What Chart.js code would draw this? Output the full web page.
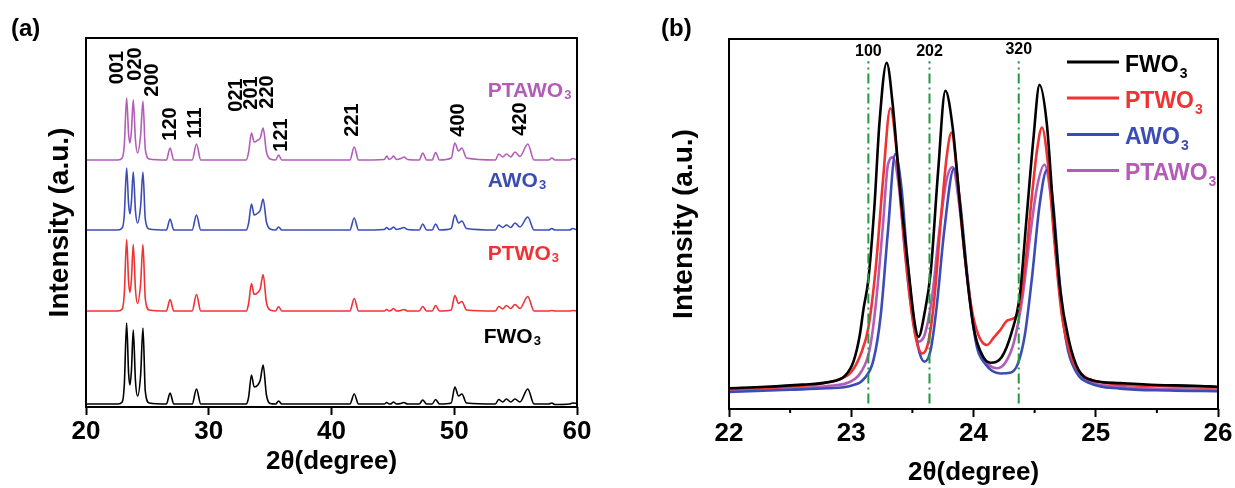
<!DOCTYPE html>
<html>
<head>
<meta charset="utf-8">
<title>XRD WO3</title>
<script src="https://cdn.jsdelivr.net/npm/chart.js@4.4.1/dist/chart.umd.min.js"></script>
<style>
    html, body { margin: 0; padding: 0; background: #fff; }
    #wrap { position: relative; width: 1235px; height: 488px; }
    .panel { position: absolute; top: 0; height: 488px; }
    #panelA { left: 0; width: 617px; }
    #panelB { left: 617px; width: 618px; }
</style>
</head>
<body>
<div id="wrap">
    <div class="panel" id="panelA"><canvas id="chartA"></canvas></div>
    <div class="panel" id="panelB"><canvas id="chartB"></canvas></div>
</div>
<script>
// ---- data ----
// sample names (a = stacked wide scan, b = zoom on the main triplet)
const samples = ['FWO', 'PTWO', 'AWO', 'PTAWO'];
const sampleColors = ['#000000', '#f03232', '#3b4db5', '#b35db8'];

// (a) 2theta grid shared by all four patterns
const thetaA = [
    20.0, 22.6, 22.95, 23.12, 23.31, 23.47, 23.58, 23.7, 23.85, 24.03, 24.2, 24.45, 24.64, 24.83, 25.15,
    26.55, 26.85, 27.15, 28.65, 29.0, 29.35,
    33.05, 33.25, 33.48, 33.7, 34.0, 34.2, 34.43, 34.7, 35.0, 35.45, 35.69, 35.95,
    41.5, 41.85, 42.2, 44.3, 44.5, 44.7, 44.9, 45.05, 45.3, 45.65, 45.9, 46.2,
    47.15, 47.43, 47.75, 48.2, 48.48, 48.8, 49.75, 50.05, 50.35, 50.62, 51.0,
    53.35, 53.62, 53.95, 54.25, 54.6, 54.95, 55.35, 55.99, 56.5, 57.7, 57.95, 58.2, 59.4, 59.65, 60.0
];
// (a) intensity above each pattern's own baseline
const fwoA = [
    1, 1, 3, 20, 82, 32, 20, 34, 75, 24, 9, 30, 77, 14, 2,
    1, 12, 1, 1, 16, 1,
    1, 8, 30, 18, 20, 25, 40, 10, 1.5, 1, 4, 1,
    1, 11, 1, 1, 2.5, 1, 1.5, 3, 1, 1.5, 2.5, 1,
    1, 5, 1, 1, 5.5, 1, 2, 18, 9, 11, 2,
    1, 5.5, 3, 6, 3, 6, 3, 16, 1, 1, 2, 0.5, 1, 2, 1.5
];
const ptwoA = [
    0.5, 0.5, 2.5, 18, 72, 30, 19, 32, 67, 22, 8, 28, 67, 13, 1.5,
    0.5, 12, 0.5, 0.5, 17, 0.5,
    0.5, 8, 28, 17, 19, 23, 37, 9, 1.5, 0.5, 5, 0.5,
    0.5, 13, 0.5, 0.5, 2, 0.5, 1.5, 3, 0.5, 1, 2, 0.5,
    0.5, 5, 0.5, 0.5, 6, 0.5, 1.5, 16, 8, 10, 1.5,
    0.5, 5, 2.5, 6, 3, 7, 3, 15, 0.5, 0.5, 1, 0.5, 0.5, 1, 0.5
];
const awoA = [
    0, 0, 2, 15, 62, 26, 16, 28, 58, 19, 7, 24, 58, 11, 1,
    0, 11, 0, 0, 15, 0,
    0, 7, 26, 15, 17, 20, 31, 8, 1, 0, 3, 0,
    0, 12, 0, 0.5, 2.5, 0.5, 1.5, 3, 0.5, 1.5, 2.5, 0.5,
    0, 6, 0, 0, 6, 0, 1.5, 15, 7, 9, 1.5,
    0, 5, 2.5, 5, 2.5, 7, 3, 13, 0, 0, 1.5, 0, 0, 1.5, 0
];
const ptawoA = [
    0, 0, 2, 15, 62, 26, 17, 29, 60, 20, 7, 25, 59, 11, 1,
    0, 12, 0, 0, 16, 0,
    0, 8, 27, 18, 20, 22, 32, 8, 1, 0, 5, 0,
    0, 13, 0, 0.5, 4, 0.5, 2, 4, 0.5, 1.5, 3, 0.5,
    0, 7, 0, 0, 7.5, 0, 2, 17, 9, 12, 2,
    0, 6, 3, 6, 3, 8, 3.5, 16, 0, 0, 2, 0, 0, 1.5, 0
];
// vertical stacking of the four patterns in (a)
const stackOffset = [2, 95.5, 177, 247];

// (a) Miller indices written over the top pattern
const hklText = ['001', '020', '200', '120', '111', '021', '201', '220', '121', '221', '400', '420'];
const hklTheta = [22.59, 24.02, 25.38, 26.87, 28.9, 32.3, 33.52, 34.81, 35.91, 41.69, 50.37, 55.42];
const hklLevel = [339.5, 343, 327, 283, 284, 312, 314, 315, 272, 287, 287, 288];

// (b) zoomed traces [2theta, intensity]
const fwoB = [
    [22.0, 5.6], [22.3, 6.0], [22.6, 6.6], [22.8, 7.2], [22.95, 9], [23.02, 13], [23.07, 20], [23.1, 27],
    [23.14, 35], [23.19, 55], [23.23, 77], [23.29, 93.6], [23.34, 82], [23.4, 59], [23.47, 37], [23.52, 23],
    [23.55, 19.5], [23.6, 26], [23.65, 37], [23.71, 64], [23.77, 86], [23.83, 76], [23.89, 55], [23.96, 32],
    [24.01, 20.5], [24.08, 14], [24.14, 12.5], [24.23, 14], [24.31, 20.5], [24.38, 31], [24.43, 50], [24.49, 73],
    [24.54, 87.6], [24.6, 77], [24.65, 55], [24.71, 32], [24.78, 18.6], [24.86, 10.5], [24.97, 7.8], [25.2, 7.0],
    [25.5, 6.5], [25.8, 6.3], [26.0, 6.0]
];
const ptwoB = [
    [22.0, 5.4], [22.4, 5.9], [22.7, 6.6], [22.9, 8], [23.0, 10], [23.08, 15], [23.14, 22], [23.2, 38],
    [23.26, 62], [23.32, 81.3], [23.37, 70], [23.42, 50], [23.48, 30], [23.53, 19], [23.58, 15], [23.63, 18],
    [23.68, 30], [23.73, 50], [23.78, 68], [23.82, 74.7], [23.87, 62], [23.92, 44], [23.98, 28], [24.04, 20],
    [24.11, 17.3], [24.17, 19.5], [24.22, 21.4], [24.28, 24], [24.36, 25.4], [24.42, 38], [24.47, 55], [24.52, 70],
    [24.56, 76.1], [24.61, 66], [24.66, 46], [24.72, 26], [24.8, 14], [24.9, 9], [25.0, 7.5], [25.5, 6.2], [26.0, 5.8]
];
const awoB = [
    [22.0, 4.6], [22.5, 5.2], [22.8, 5.6], [23.0, 6.3], [23.1, 8], [23.18, 13], [23.24, 25], [23.3, 48],
    [23.36, 68.9], [23.41, 60], [23.46, 40], [23.52, 22], [23.56, 15], [23.6, 12.8], [23.65, 16], [23.7, 28],
    [23.76, 48], [23.84, 65], [23.89, 56], [23.95, 36], [24.02, 18], [24.1, 12], [24.22, 9.6], [24.3, 9.8],
    [24.36, 12], [24.42, 20], [24.48, 36], [24.54, 55], [24.6, 64.6], [24.65, 56], [24.7, 36], [24.76, 18],
    [24.84, 10], [24.95, 7], [25.2, 5.5], [25.6, 5], [26.0, 4.8]
];
const ptawoB = [
    [22.0, 5.0], [22.5, 5.5], [22.8, 6.2], [23.0, 7.5], [23.08, 10], [23.15, 16], [23.2, 28], [23.26, 50],
    [23.3, 66], [23.34, 68], [23.39, 60], [23.44, 42], [23.5, 25], [23.55, 18.2], [23.6, 20], [23.66, 30],
    [23.72, 48], [23.78, 62], [23.83, 65.4], [23.88, 56], [23.94, 38], [24.0, 22], [24.08, 14], [24.19, 11],
    [24.26, 12.5], [24.33, 18], [24.4, 30], [24.46, 46], [24.52, 60], [24.58, 66], [24.63, 58], [24.68, 40],
    [24.74, 22], [24.82, 12], [24.92, 8], [25.2, 6], [25.6, 5.4], [26.0, 5.2]
];
// (b) reference reflections (dash-dot lines)
const refTheta = [23.14, 23.64, 24.37];
const refText = ['100', '202', '320'];

// ---- drawing ----
const FONT = '"Liberation Sans", Arial, sans-serif';
const refGreen = '#1f9a3f';

// text with a subscript "3"
function drawFormula(ctx, main, x, y, size, subSize, drop, color) {
    ctx.save();
    ctx.fillStyle = color;
    ctx.textAlign = 'left';
    ctx.textBaseline = 'alphabetic';
    ctx.font = 'bold ' + size + 'px ' + FONT;
    ctx.fillText(main, x, y);
    const w = ctx.measureText(main).width;
    ctx.font = 'bold ' + subSize + 'px ' + FONT;
    ctx.fillText('3', x + w + 1, y + drop);
    ctx.restore();
}

function drawFrame(chart) {
    const { ctx, chartArea: a } = chart;
    ctx.save();
    ctx.strokeStyle = '#000';
    ctx.lineWidth = 2;
    ctx.strokeRect(a.left, a.top, a.right - a.left, a.bottom - a.top);
    ctx.restore();
}

const axisTitleFont = { family: FONT, size: 26, weight: 'bold' };
const tickFont = { family: FONT, size: 26, weight: 'bold' };

// panel (a)
const seriesA = [fwoA, ptwoA, awoA, ptawoA];
const labelPosA = [[52.4, 343], [52.73, 260], [52.73, 187], [52.73, 97]]; // [2theta, baseline px]

const panelAPlugin = {
    id: 'panelA',
    afterDatasetsDraw(chart) {
        const { ctx, scales: { x, y } } = chart;
        drawFrame(chart);
        // Miller indices, rotated
        ctx.save();
        ctx.fillStyle = '#000';
        ctx.font = 'bold 20px ' + FONT;
        ctx.textAlign = 'center';
        ctx.textBaseline = 'middle';
        hklText.forEach((t, i) => {
            ctx.save();
            ctx.translate(x.getPixelForValue(hklTheta[i]), y.getPixelForValue(hklLevel[i]));
            ctx.rotate(-Math.PI / 2);
            ctx.fillText(t, 0, 0);
            ctx.restore();
        });
        ctx.restore();
        // sample names
        samples.forEach((s, i) => {
            drawFormula(ctx, s, x.getPixelForValue(labelPosA[i][0]), labelPosA[i][1], 21, 13, 2, sampleColors[i]);
        });
        // panel letter
        ctx.save();
        ctx.fillStyle = '#000';
        ctx.font = 'bold 24px ' + FONT;
        ctx.fillText('(a)', 11, 36);
        ctx.restore();
    }
};

new Chart(document.getElementById('chartA'), {
    type: 'line',
    data: {
        datasets: seriesA.map((vals, i) => ({
            label: samples[i] + '3',
            data: thetaA.map((t, k) => ({ x: t, y: vals[k] + stackOffset[i] })),
            borderColor: sampleColors[i],
            borderWidth: 1.6,
            pointRadius: 0,
            cubicInterpolationMode: 'monotone',
            fill: false
        }))
    },
    options: {
        responsive: true,
        maintainAspectRatio: false,
        animation: false,
        layout: { padding: { top: 38, right: 40, left: 0, bottom: 0 } },
        plugins: { legend: { display: false }, tooltip: { enabled: false } },
        scales: {
            x: {
                type: 'linear', min: 20, max: 60,
                ticks: { stepSize: 10, padding: 1, color: '#000', font: tickFont },
                grid: { drawOnChartArea: false, tickLength: 8, tickWidth: 2, tickColor: '#000' },
                border: { display: false },
                title: { display: true, text: '2θ(degree)', color: '#000', font: axisTitleFont, padding: { top: 0, bottom: 11 } },
                afterFit: s => { s.height = 81; }
            },
            y: {
                min: 0, max: 369,
                ticks: { display: false },
                grid: { display: false },
                border: { display: false },
                title: { display: true, text: 'Intensity (a.u.)', color: '#000', font: { family: FONT, size: 28, weight: 'bold' }, padding: { top: 43, bottom: 0 } },
                afterFit: s => { s.width = 86; }
            }
        }
    },
    plugins: [panelAPlugin]
});

// panel (b)
const seriesB = [fwoB, ptwoB, awoB, ptawoB];
const legendRowY = [62, 98, 134.5, 170.5]; // px

const panelBPlugin = {
    id: 'panelB',
    afterDatasetsDraw(chart) {
        const { ctx, chartArea: a, scales: { x, y } } = chart;
        drawFrame(chart);
        // minor ticks
        ctx.save();
        ctx.strokeStyle = '#000';
        ctx.lineWidth = 2;
        for (let v = 22.5; v < 26; v += 1) {
            const px = x.getPixelForValue(v);
            ctx.beginPath();
            ctx.moveTo(px, a.bottom);
            ctx.lineTo(px, a.bottom + 4);
            ctx.stroke();
        }
        ctx.restore();
        // reflection labels
        ctx.save();
        ctx.fillStyle = '#000';
        ctx.font = 'bold 16px ' + FONT;
        ctx.textAlign = 'center';
        ctx.textBaseline = 'middle';
        refText.forEach((t, i) => {
            ctx.fillText(t, x.getPixelForValue(refTheta[i]), a.top + (i === 2 ? 11 : 13));
        });
        ctx.restore();
        // legend
        samples.forEach((s, i) => {
            const ly = legendRowY[i];
            ctx.save();
            ctx.strokeStyle = sampleColors[i];
            ctx.lineWidth = 3;
            ctx.beginPath();
            ctx.moveTo(1067 - 617, ly);
            ctx.lineTo(1119 - 617, ly);
            ctx.stroke();
            ctx.restore();
            drawFormula(ctx, s, 1125 - 617, ly + 9.5, 23, 14, 6, sampleColors[i]);
        });
        // panel letter
        ctx.save();
        ctx.fillStyle = '#000';
        ctx.font = 'bold 24px ' + FONT;
        ctx.fillText('(b)', 44, 36);
        ctx.restore();
    }
};

const refDatasets = refTheta.map(t => ({
    label: 'ref ' + t,
    data: [{ x: t, y: 1.5 }, { x: t, y: 94 }],
    borderColor: refGreen,
    borderWidth: 2,
    borderDash: [10, 4, 2, 4],
    pointRadius: 0,
    fill: false
}));

new Chart(document.getElementById('chartB'), {
    type: 'line',
    data: {
        datasets: refDatasets.concat(seriesB.map((pts, i) => ({
            label: samples[i] + '3',
            data: pts.map(p => ({ x: p[0], y: p[1] })),
            borderColor: sampleColors[i],
            borderWidth: 2.6,
            pointRadius: 0,
            cubicInterpolationMode: 'monotone',
            fill: false
        })))
    },
    options: {
        responsive: true,
        maintainAspectRatio: false,
        animation: false,
        layout: { padding: { top: 39, right: 17, left: 0, bottom: 0 } },
        plugins: { legend: { display: false }, tooltip: { enabled: false } },
        scales: {
            x: {
                type: 'linear', min: 22, max: 26,
                ticks: { stepSize: 1, padding: 1, color: '#000', font: tickFont },
                grid: { drawOnChartArea: false, tickLength: 8, tickWidth: 2, tickColor: '#000' },
                border: { display: false },
                title: { display: true, text: '2θ(degree)', color: '#000', font: axisTitleFont, padding: { top: 0, bottom: 0 } },
                afterFit: s => { s.height = 79; }
            },
            y: {
                min: 0, max: 100,
                ticks: { display: false },
                grid: { display: false },
                border: { display: false },
                title: { display: true, text: 'Intensity (a.u.)', color: '#000', font: { family: FONT, size: 28, weight: 'bold' }, padding: { top: 50, bottom: 0 } },
                afterFit: s => { s.width = 112; }
            }
        }
    },
    plugins: [panelBPlugin]
});
</script>
</body>
</html>
